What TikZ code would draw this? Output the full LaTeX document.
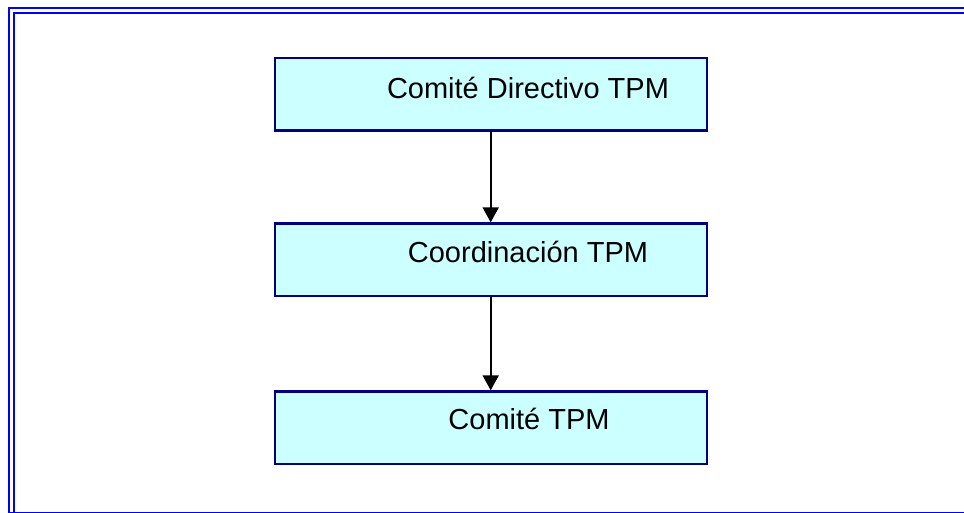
\documentclass[tikz,border=0pt]{standalone}
\usepackage{fontspec}
\setmainfont{Liberation Sans}
\usetikzlibrary{arrows.meta}
\definecolor{boxfill}{HTML}{CCFFFF}
\definecolor{boxline}{HTML}{000080}
\definecolor{frameblue}{HTML}{0000FF}
\tikzset{
  orgbox/.style={draw=boxline, line width=2.3pt, fill=boxfill, minimum width=432pt, minimum height=72.5pt, inner sep=0pt},
  orgtext/.style={font=\fontsize{29}{34}\selectfont, anchor=center, inner sep=0pt},
  link/.style={line width=2pt, -{Triangle[length=15pt,width=16pt]}},
  frameline/.style={draw=frameblue, line width=2pt}
}
\begin{document}
\begin{tikzpicture}[x=1pt,y=-1pt]
\useasboundingbox (0,0) rectangle (964,512);
\begin{scope}
\clip (0,0) rectangle (964,512);
\draw[frameline] (9,8) rectangle (980,512.8);
\draw[frameline] (13.5,12.5) rectangle (976,530);
\end{scope}
\node[orgbox] (b1) at (490.7,94.3) {};
\node[orgbox] (b2) at (490.7,259.7) {};
\node[orgbox] (b3) at (490.7,427.7) {};
\node[orgtext] (t1) at (528,88) {Comité Directivo TPM};
\node[orgtext] (t2) at (528,252) {Coordinación TPM};
\node[orgtext] (t3) at (529,419) {Comité TPM};
\draw[link] (b1.south) -- (b2.north);
\draw[link] (b2.south) -- (b3.north);
\end{tikzpicture}
\end{document}
